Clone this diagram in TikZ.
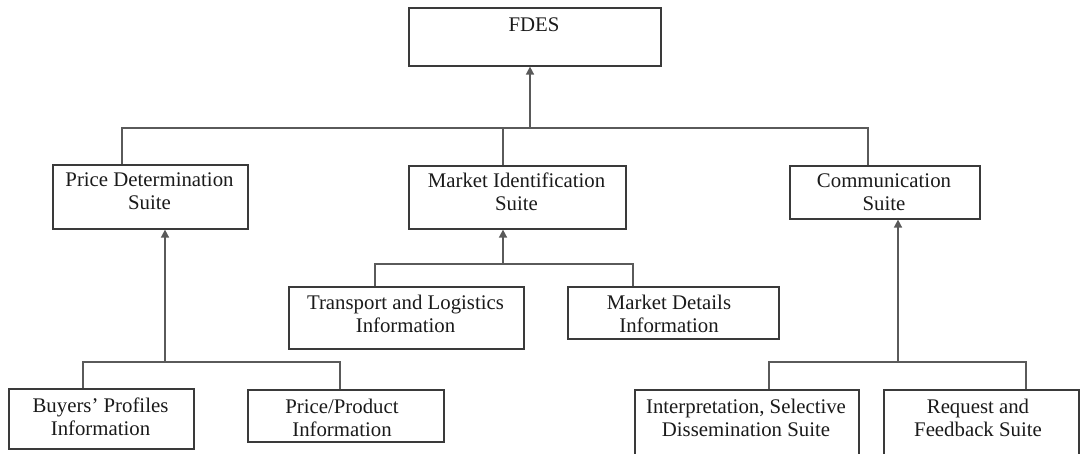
\documentclass[tikz,border=0pt]{standalone}
\usepackage{fontspec}
\setmainfont{Liberation Serif}
\usetikzlibrary{arrows.meta}
\definecolor{boxgray}{HTML}{3A3A3A}
\definecolor{linegray}{HTML}{5A5A5A}
\definecolor{inkgray}{HTML}{1A1A1A}
\begin{document}
\begin{tikzpicture}[x=1pt,y=-1pt,
  box/.style={draw=boxgray, line width=1.6pt, inner sep=0pt, anchor=north west},
  lbl/.style={anchor=north, align=center, inner sep=0pt, text=inkgray,
              font=\fontsize{20.8}{22.5}\selectfont},
  link/.style={draw=linegray, line width=1.5pt},
  up/.style={link, -{Triangle[width=8pt,length=8pt]}}]
\useasboundingbox (0,0) rectangle (1081,454);
\clip (0,0) rectangle (1081,454);

% boxes
\node[box, minimum width=252pt, minimum height=58pt] (fdes) at (408,7) {};
\node[box, minimum width=195pt, minimum height=64pt] (pd) at (52,164) {};
\node[box, minimum width=217pt, minimum height=63pt] (mi) at (408,165) {};
\node[box, minimum width=190pt, minimum height=53pt] (cs) at (789,165) {};
\node[box, minimum width=235pt, minimum height=62pt] (tl) at (288,286) {};
\node[box, minimum width=211pt, minimum height=52pt] (md) at (567,286) {};
\node[box, minimum width=185pt, minimum height=60pt] (bp) at (8,388) {};
\node[box, minimum width=196pt, minimum height=52pt] (pp) at (247,389) {};
\node[box, minimum width=224pt, minimum height=80pt] (is) at (634,389) {};
\node[box, minimum width=195pt, minimum height=80pt] (rf) at (883,389) {};

% labels
\node[lbl] (fdes-t) at (534,18) {FDES};
\node[lbl] (pd-t) at (149.5,173) {Price Determination\\Suite};
\node[lbl] (mi-t) at (516.5,173) {Market Identification\\Suite};
\node[lbl] (cs-t) at (884,174) {Communication\\Suite};
\node[lbl] (tl-t) at (405.5,295) {Transport and Logistics\\Information};
\node[lbl] (md-t) at (669,295) {Market Details\\Information};
\node[lbl] (bp-t) at (100.5,398) {Buyers’ Profiles\\Information};
\node[lbl] (pp-t) at (342,399) {Price/Product\\Information};
\node[lbl] (is-t) at (746,399) {Interpretation, Selective\\Dissemination Suite};
\node[lbl] (rf-t) at (978,399) {Request and\\Feedback Suite};

% top level bus
\coordinate (j0) at (530,128);
\coordinate (jL) at (122,128);
\coordinate (jM) at (503,128);
\coordinate (jR) at (868,128);
\draw[up] (j0) -- (j0 |- fdes.south);
\draw[link] (jL |- pd.north) |- (jR) -- (jR |- cs.north);
\draw[link] (jM) -- (jM |- mi.north);

% price determination bus
\coordinate (p0) at (165,362);
\coordinate (pL) at (83,362);
\coordinate (pR) at (340,362);
\draw[up] (p0) -- (p0 |- pd.south);
\draw[link] (pL |- bp.north) |- (pR) -- (pR |- pp.north);

% market identification bus
\coordinate (m0) at (503,264);
\coordinate (mL) at (375,264);
\coordinate (mR) at (633,264);
\draw[up] (m0) -- (m0 |- mi.south);
\draw[link] (mL |- tl.north) |- (mR) -- (mR |- md.north);

% communication bus
\coordinate (c0) at (898,362);
\coordinate (cL) at (769,362);
\coordinate (cR) at (1026,362);
\draw[up] (c0) -- (c0 |- cs.south);
\draw[link] (cL |- is.north) |- (cR) -- (cR |- rf.north);
\end{tikzpicture}
\end{document}
